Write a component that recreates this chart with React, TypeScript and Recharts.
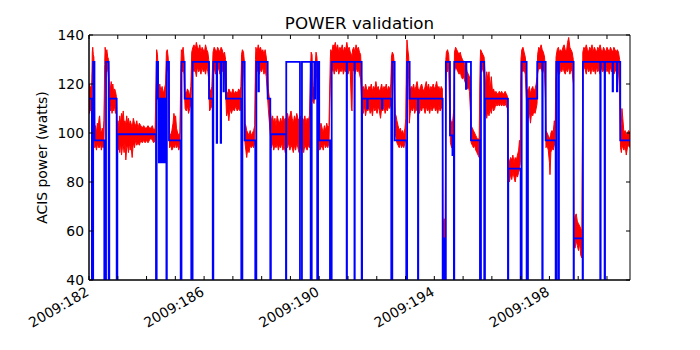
import React from 'react';
import { ComposedChart, Area, Line, XAxis, YAxis, ReferenceArea } from 'recharts';

// ---- axis ticks ----
const xTicks = [182, 183, 184, 185, 186, 187, 188, 189, 190, 191, 192, 193, 194, 195, 196, 197, 198, 199, 200];
const xLabelDays = [182, 186, 190, 194, 198];
const xLabels = ['2009:182', '2009:186', '2009:190', '2009:194', '2009:198'];
const yTicks = [40, 60, 80, 100, 120, 140];

// ---- telemetry (red): [day, low, high] envelope of the noisy trace ----
const redSamples: [number, number, number][] = [
  [182.00, 110, 118], [182.02, 108, 120], [182.04, 111, 117], [182.06, 109, 119], [182.08, 110, 116], [182.10, 112, 122],
  [182.115, 124, 133], [182.13, 127, 135], [182.15, 125, 132], [182.17, 122, 131], [182.185, 100, 118],
  [182.20, 94, 101], [182.23, 95, 103], [182.26, 93, 100], [182.29, 96, 104], [182.32, 94, 102], [182.35, 95, 106],
  [182.37, 94, 107], [182.40, 96, 101], [182.43, 93, 100], [182.46, 95, 102], [182.49, 94, 100], [182.52, 96, 105],
  [182.545, 118, 128], [182.56, 127, 135], [182.59, 126, 132], [182.62, 125, 134], [182.65, 127, 131], [182.68, 122, 130],
  [182.71, 110, 119], [182.74, 109, 118], [182.77, 111, 121], [182.80, 108, 119], [182.83, 110, 120], [182.86, 109, 116],
  [182.89, 111, 118], [182.92, 108, 117], [182.95, 110, 115],
  [182.98, 96, 103], [183.01, 93, 105], [183.04, 95, 102], [183.07, 92, 107], [183.10, 96, 104], [183.13, 91, 108],
  [183.16, 94, 106], [183.19, 95, 109], [183.22, 92, 104], [183.25, 96, 105], [183.28, 89, 103], [183.31, 94, 107],
  [183.34, 95, 104], [183.37, 92, 106], [183.40, 96, 103], [183.43, 93, 105], [183.46, 95, 104], [183.50, 90, 102],
  [183.54, 96, 106], [183.58, 94, 104], [183.62, 97, 103], [183.66, 95, 105], [183.70, 96, 102], [183.75, 95, 104],
  [183.80, 97, 103], [183.85, 96, 102], [183.90, 97, 103], [183.95, 96, 102], [184.00, 97, 102], [184.05, 96, 103],
  [184.10, 97, 102], [184.15, 98, 102], [184.20, 97, 103], [184.25, 96, 101], [184.30, 97, 102],
  [184.335, 110, 125], [184.35, 125, 134], [184.38, 124, 132], [184.40, 115, 126],
  [184.42, 110, 118], [184.46, 108, 120], [184.50, 111, 117], [184.54, 109, 119], [184.58, 110, 116], [184.62, 108, 118], [184.66, 111, 120],
  [184.69, 124, 133], [184.72, 126, 134], [184.75, 125, 131], [184.775, 112, 125],
  [184.80, 94, 100], [184.84, 95, 99], [184.88, 93, 101], [184.92, 94, 104], [184.95, 95, 108], [184.98, 94, 106],
  [185.01, 96, 107], [185.04, 94, 102], [185.08, 95, 100], [185.12, 93, 99], [185.16, 95, 100],
  [185.195, 118, 128], [185.21, 126, 134], [185.24, 125, 133], [185.27, 127, 135], [185.30, 124, 131], [185.32, 116, 125],
  [185.34, 110, 117], [185.38, 109, 116], [185.42, 111, 118], [185.46, 108, 117], [185.50, 110, 115], [185.54, 112, 119],
  [185.57, 124, 133], [185.61, 127, 135], [185.65, 125, 136], [185.69, 126, 134], [185.73, 123, 137], [185.77, 127, 135],
  [185.81, 125, 134], [185.85, 126, 136], [185.89, 124, 133], [185.93, 127, 135], [185.97, 125, 134], [186.01, 126, 133],
  [186.05, 124, 136], [186.09, 127, 134], [186.13, 125, 133], [186.16, 122, 130],
  [186.19, 109, 118], [186.23, 110, 117], [186.27, 111, 119],
  [186.31, 125, 133], [186.35, 127, 135], [186.39, 124, 134], [186.43, 126, 133], [186.47, 125, 135], [186.51, 127, 134],
  [186.55, 124, 133], [186.59, 126, 135], [186.63, 125, 134], [186.67, 127, 132], [186.71, 124, 133], [186.745, 118, 130],
  [186.78, 107, 117], [186.82, 109, 116], [186.86, 105, 118], [186.90, 110, 117], [186.95, 108, 116], [187.00, 110, 118],
  [187.05, 109, 116], [187.10, 111, 117], [187.15, 109, 116], [187.20, 110, 118], [187.25, 109, 117], [187.28, 111, 119],
  [187.30, 125, 132], [187.33, 127, 134], [187.37, 126, 133], [187.40, 118, 129],
  [187.42, 96, 104], [187.45, 93, 103], [187.48, 90, 101], [187.52, 94, 100], [187.56, 92, 99], [187.60, 95, 101],
  [187.64, 94, 99], [187.68, 95, 100], [187.72, 94, 101], [187.76, 96, 103],
  [187.785, 120, 130], [187.80, 126, 135], [187.84, 125, 133], [187.88, 127, 136], [187.92, 124, 134], [187.96, 126, 135],
  [188.00, 125, 133], [188.04, 127, 134], [188.08, 124, 132], [188.12, 126, 134], [188.16, 123, 131], [188.20, 116, 126],
  [188.23, 110, 118], [188.27, 104, 114], [188.31, 98, 108],
  [188.34, 94, 105], [188.38, 96, 107], [188.42, 93, 104], [188.46, 95, 106], [188.50, 94, 103], [188.54, 96, 107],
  [188.58, 93, 105], [188.62, 95, 104], [188.66, 94, 106], [188.70, 96, 104], [188.74, 93, 107], [188.78, 95, 105],
  [188.82, 92, 106], [188.86, 95, 104], [188.90, 94, 108], [188.94, 96, 105], [188.98, 93, 107], [189.02, 95, 109],
  [189.06, 94, 106], [189.10, 92, 104], [189.14, 95, 107], [189.18, 93, 105], [189.22, 96, 108], [189.26, 94, 106],
  [189.30, 92, 105], [189.34, 95, 107], [189.38, 93, 104], [189.42, 94, 106], [189.46, 92, 105], [189.50, 95, 107],
  [189.54, 94, 104], [189.58, 93, 106], [189.62, 95, 105], [189.66, 94, 107],
  [189.70, 112, 126], [189.72, 124, 133], [189.75, 120, 132], [189.78, 113, 119], [189.82, 112, 118], [189.86, 118, 128],
  [189.89, 125, 133], [189.92, 122, 131], [189.95, 110, 124],
  [189.98, 95, 103], [190.02, 93, 101], [190.06, 94, 104], [190.10, 95, 102], [190.14, 93, 100], [190.18, 96, 103],
  [190.22, 94, 101], [190.26, 95, 104], [190.30, 94, 102], [190.34, 96, 103],
  [190.385, 120, 130], [190.40, 126, 134], [190.44, 125, 133], [190.48, 127, 136], [190.52, 124, 135], [190.56, 126, 137],
  [190.60, 125, 134], [190.64, 127, 136], [190.68, 124, 133], [190.72, 126, 135], [190.76, 125, 134], [190.80, 127, 136],
  [190.84, 124, 133], [190.88, 126, 135], [190.92, 125, 134], [190.96, 127, 137], [191.00, 124, 134], [191.04, 126, 135],
  [191.08, 125, 133], [191.12, 110, 132], [191.14, 109, 131], [191.16, 125, 134], [191.20, 126, 135], [191.24, 124, 133],
  [191.28, 127, 136], [191.32, 125, 134], [191.36, 126, 135], [191.40, 124, 133], [191.44, 122, 132],
  [191.49, 110, 118], [191.53, 108, 119], [191.57, 111, 117], [191.61, 107, 120], [191.65, 110, 118], [191.69, 109, 117],
  [191.73, 111, 119], [191.77, 108, 118], [191.81, 110, 120], [191.85, 107, 117], [191.89, 111, 119], [191.93, 109, 118],
  [191.97, 110, 121], [192.01, 108, 118], [192.05, 111, 119], [192.09, 109, 117], [192.13, 106, 118], [192.17, 110, 120],
  [192.21, 109, 117], [192.25, 111, 119], [192.29, 108, 118], [192.33, 110, 120], [192.37, 109, 117], [192.41, 111, 119],
  [192.45, 110, 118], [192.49, 112, 120],
  [192.51, 124, 131], [192.54, 126, 133], [192.58, 125, 132], [192.61, 115, 128],
  [192.64, 100, 108], [192.67, 98, 107], [192.70, 96, 105], [192.74, 95, 103], [192.78, 94, 101], [192.82, 96, 102],
  [192.86, 94, 100], [192.90, 95, 101], [192.94, 94, 99], [192.98, 96, 102], [193.01, 98, 106],
  [193.03, 118, 130], [193.05, 127, 138], [193.08, 125, 134], [193.11, 122, 131], [193.13, 104, 120],
  [193.16, 108, 117], [193.20, 110, 119], [193.24, 109, 118], [193.28, 111, 120], [193.32, 108, 117], [193.36, 110, 119],
  [193.40, 109, 121], [193.44, 111, 118], [193.48, 108, 117], [193.52, 110, 119], [193.56, 109, 120], [193.60, 111, 118],
  [193.64, 110, 117], [193.68, 108, 119], [193.72, 111, 121], [193.76, 109, 118], [193.80, 110, 120], [193.84, 108, 117],
  [193.88, 111, 119], [193.92, 109, 118], [193.96, 110, 120], [194.00, 111, 118], [194.04, 109, 119], [194.08, 110, 121],
  [194.12, 108, 118], [194.16, 111, 119], [194.20, 109, 117], [194.24, 110, 119], [194.28, 112, 118],
  [194.295, 58, 66], [194.32, 54, 63], [194.35, 52, 65], [194.38, 55, 62],
  [194.40, 120, 130], [194.42, 126, 133], [194.46, 125, 134], [194.50, 127, 132], [194.53, 110, 125],
  [194.56, 96, 106], [194.60, 94, 104], [194.64, 95, 105], [194.68, 98, 110],
  [194.70, 125, 133], [194.74, 127, 135], [194.78, 126, 134], [194.82, 125, 133], [194.86, 124, 132], [194.90, 125, 133],
  [194.94, 123, 131], [194.98, 122, 130], [195.02, 123, 129], [195.06, 121, 128], [195.10, 120, 127], [195.14, 118, 125],
  [195.18, 119, 124], [195.22, 117, 123], [195.26, 108, 120],
  [195.28, 96, 103], [195.32, 95, 102], [195.36, 94, 101], [195.40, 95, 100], [195.44, 93, 99], [195.48, 92, 98],
  [195.52, 91, 97], [195.56, 90, 98],
  [195.59, 118, 128], [195.61, 126, 134], [195.65, 125, 133], [195.69, 127, 132], [195.73, 124, 131], [195.76, 114, 125],
  [195.78, 108, 119], [195.82, 106, 125], [195.86, 109, 122], [195.90, 107, 125], [195.94, 110, 118], [195.98, 108, 123],
  [196.02, 111, 117], [196.06, 109, 118], [196.10, 110, 116], [196.14, 112, 117], [196.18, 111, 116], [196.22, 112, 116],
  [196.26, 111, 117], [196.30, 112, 116], [196.34, 111, 117], [196.38, 112, 116], [196.42, 111, 116], [196.46, 112, 117],
  [196.50, 111, 116], [196.54, 110, 115],
  [196.57, 82, 90], [196.61, 80, 88], [196.65, 83, 90], [196.69, 81, 89], [196.73, 84, 91], [196.77, 82, 88],
  [196.81, 80, 90], [196.85, 83, 89], [196.89, 82, 91], [196.93, 84, 93], [196.96, 85, 97], [196.99, 88, 95],
  [197.01, 120, 130], [197.04, 127, 134], [197.08, 125, 135], [197.12, 126, 133], [197.16, 124, 131], [197.20, 114, 126],
  [197.22, 108, 118], [197.26, 106, 117], [197.30, 109, 119], [197.34, 104, 116], [197.38, 108, 118], [197.42, 107, 119],
  [197.46, 109, 117], [197.50, 108, 118], [197.54, 110, 120], [197.57, 112, 123],
  [197.59, 124, 132], [197.63, 127, 135], [197.67, 126, 134], [197.71, 127, 136], [197.75, 125, 134], [197.79, 126, 133],
  [197.83, 124, 131], [197.86, 114, 126],
  [197.88, 94, 101], [197.92, 95, 100], [197.96, 93, 99], [198.00, 88, 98], [198.02, 83, 96], [198.05, 92, 100],
  [198.09, 94, 101], [198.13, 93, 100], [198.17, 95, 105], [198.20, 96, 102],
  [198.23, 122, 131], [198.27, 125, 134], [198.31, 127, 135], [198.35, 124, 133], [198.39, 126, 134], [198.43, 125, 133],
  [198.47, 127, 135], [198.51, 125, 136], [198.55, 124, 134], [198.59, 126, 133], [198.63, 125, 137], [198.67, 127, 139],
  [198.71, 124, 135], [198.75, 126, 134], [198.79, 125, 133], [198.83, 120, 130],
  [198.85, 55, 63], [198.89, 53, 66], [198.93, 56, 67], [198.97, 54, 64], [199.01, 52, 63], [199.05, 55, 62],
  [199.09, 50, 61], [199.13, 49, 60],
  [199.16, 125, 133], [199.20, 127, 135], [199.24, 126, 134], [199.28, 124, 136], [199.32, 127, 134], [199.36, 125, 133],
  [199.40, 126, 135], [199.44, 124, 134], [199.48, 127, 136], [199.52, 125, 133], [199.56, 126, 135], [199.60, 124, 134],
  [199.64, 127, 133], [199.68, 125, 135], [199.72, 126, 134], [199.76, 124, 136], [199.80, 127, 134], [199.84, 125, 133],
  [199.88, 126, 135], [199.92, 124, 134], [199.96, 127, 133], [200.00, 125, 135], [200.04, 126, 134], [200.08, 124, 133],
  [200.12, 127, 135], [200.16, 125, 134], [200.20, 126, 133], [200.24, 124, 135], [200.28, 125, 134], [200.32, 126, 133],
  [200.36, 124, 134], [200.40, 125, 133], [200.44, 118, 130],
  [200.47, 94, 101], [200.50, 92, 104], [200.52, 95, 110], [200.55, 94, 106], [200.59, 93, 100], [200.63, 95, 101],
  [200.67, 91, 99], [200.71, 94, 100], [200.75, 95, 101], [200.80, 94, 100],
];

// ---- model (blue): step changes [day, watts]; 0 = dropped out (below axis) ----
const blueTimes = [
  182.000, 182.100, 182.145, 182.190, 182.532, 182.591, 182.684, 182.705, 182.962, 182.985,
  184.328, 184.352, 184.400, 184.430, 184.450, 184.470, 184.500, 184.520, 184.545, 184.560,
  184.590, 184.610, 184.635, 184.650, 184.665, 184.690, 184.705, 184.780, 185.186, 185.214,
  185.325, 185.554, 185.600, 186.170, 186.300, 186.320, 186.437, 186.452, 186.576, 186.591,
  186.673, 186.688, 186.760, 187.292, 187.330, 187.410, 187.778, 187.815, 187.890, 187.905,
  188.209, 188.300, 188.320, 188.845, 188.855, 189.331, 189.400, 189.703, 189.740, 189.830,
  189.860, 189.930, 189.960, 190.000, 190.374, 190.433, 190.954, 190.965, 191.225, 191.235,
  191.475, 191.490, 191.670, 191.685, 192.180, 192.195, 192.504, 192.540, 192.622, 193.025,
  193.055, 193.143, 193.432, 193.442, 194.290, 194.310, 194.370, 194.400, 194.544, 194.630,
  194.645, 194.680, 194.693, 195.099, 195.115, 195.273, 195.586, 195.621, 195.735, 195.760,
  196.559, 196.570, 197.000, 197.035, 197.208, 197.254, 197.577, 197.751, 197.765, 197.869,
  198.216, 198.240, 198.310, 198.331, 198.841, 198.850, 199.154, 199.165, 199.766, 199.780,
  199.918, 199.932, 200.196, 200.210, 200.346, 200.360, 200.461, 200.800,
];
const blueValues = [
  114, 0, 129, 97, 0, 129, 0, 114, 0, 99.5,
  0, 129, 114, 88, 114, 88, 114, 88, 114, 88,
  114, 88, 114, 88, 114, 0, 129, 97, 0, 129,
  114, 0, 129, 114, 0, 129, 96, 129, 96, 129,
  117, 129, 114, 0, 129, 97, 0, 129, 117, 129,
  114, 0, 99.5, 0, 129, 0, 129, 0, 129, 114,
  129, 0, 129, 97, 0, 129, 0, 129, 0, 129,
  0, 114, 110, 114, 110, 114, 0, 129, 97, 0,
  129, 114, 0, 114, 0, 57, 0, 129, 99, 91,
  99, 0, 129, 118, 129, 97, 0, 129, 0, 114,
  0, 85.5, 0, 129, 0, 114, 129, 0, 129, 97,
  0, 129, 0, 129, 0, 57, 0, 129, 0, 129,
  0, 129, 117, 129, 117, 129, 97, 97,
];

const redData = redSamples.map(([t, lo, hi]) => ({ t, band: [lo, hi] }));
const blueData = blueTimes.map((t, i) => ({ t, v: blueValues[i] }));

const FONT = 'DejaVu Sans, sans-serif';
const PLOT_W = 541;
const PLOT_H = 245;

const XTick = (props: any) => {
  const { x, y, payload } = props;
  const idx = xLabelDays.indexOf(payload.value);
  const lx = x - 4;
  const ly = y + 6;
  return (
    <g>
      <line x1={x} x2={x} y1={y} y2={y - 4} stroke="#000" strokeWidth={1} />
      <line x1={x} x2={x} y1={y - PLOT_H} y2={y - PLOT_H + 4} stroke="#000" strokeWidth={1} />
      {idx >= 0 && (
        <text
          x={lx}
          y={ly}
          dy="0.72em"
          textAnchor="end"
          fontFamily={FONT}
          fontSize={13.9}
          fill="#000"
          transform={`rotate(-30, ${lx}, ${ly})`}
        >
          {xLabels[idx]}
        </text>
      )}
    </g>
  );
};

const YTick = (props: any) => {
  const { x, y, payload } = props;
  return (
    <g>
      <line x1={x} x2={x + 4} y1={y} y2={y} stroke="#000" strokeWidth={1} />
      <line x1={x + PLOT_W} x2={x + PLOT_W - 4} y1={y} y2={y} stroke="#000" strokeWidth={1} />
      <text x={x - 5} y={y} dy="0.36em" textAnchor="end" fontFamily={FONT} fontSize={13.9} fill="#000">
        {payload.value}
      </text>
    </g>
  );
};

export default function App() {
  return (
    <div style={{ position: 'absolute', left: 0, top: 0, width: 700, height: 350, background: '#fff' }}>
      <ComposedChart width={700} height={350} margin={{ top: 35, right: 70, bottom: 0, left: 0 }}>
        <XAxis
          type="number"
          dataKey="t"
          domain={[182, 200.8]}
          ticks={xTicks}
          interval={0}
          allowDataOverflow
          height={70}
          tickSize={0}
          tickMargin={0}
          tick={<XTick />}
          axisLine={{ stroke: '#000' }}
          tickLine={false}
        />
        <YAxis
          type="number"
          domain={[40, 140]}
          ticks={yTicks}
          interval={0}
          allowDataOverflow
          width={89}
          tickSize={0}
          tickMargin={0}
          tick={<YTick />}
          axisLine={{ stroke: '#000' }}
          tickLine={false}
        />
        <Area
          data={redData}
          dataKey="band"
          type="linear"
          stroke="#ff0000"
          strokeWidth={1}
          fill="#ff0000"
          fillOpacity={1}
          dot={false}
          activeDot={false}
          isAnimationActive={false}
        />
        <Line
          data={blueData}
          dataKey="v"
          type="stepAfter"
          stroke="#0000ff"
          strokeWidth={1.8}
          dot={false}
          activeDot={false}
          isAnimationActive={false}
        />
        <ReferenceArea x1={182} x2={200.8} y1={40} y2={140} fill="none" stroke="#000" strokeWidth={1} />
      </ComposedChart>
      <svg width={700} height={350} style={{ position: 'absolute', left: 0, top: 0, pointerEvents: 'none' }}>
        <text x={359.5} y={29} textAnchor="middle" fontFamily={FONT} fontSize={16.7} fill="#000">
          POWER validation
        </text>
        <text
          x={47}
          y={157.5}
          textAnchor="middle"
          fontFamily={FONT}
          fontSize={13.9}
          fill="#000"
          transform="rotate(-90, 47, 157.5)"
        >
          ACIS power (watts)
        </text>
      </svg>
    </div>
  );
}
